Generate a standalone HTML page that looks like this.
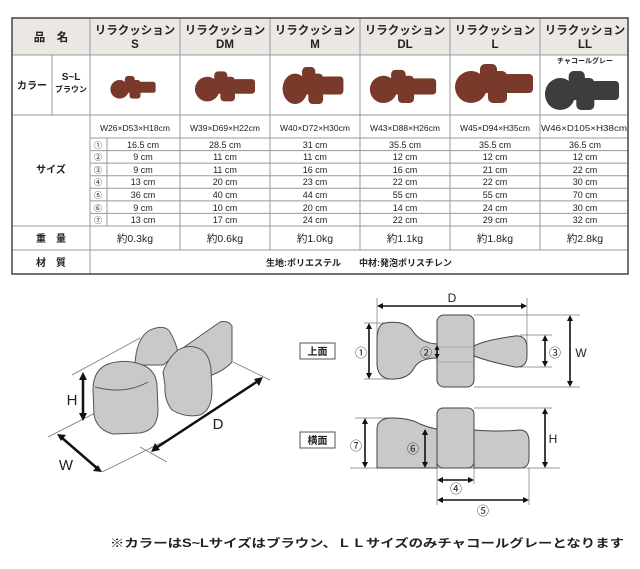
<!DOCTYPE html>
<html><head><meta charset="utf-8"><style>
html,body{margin:0;padding:0;background:#fff;width:640px;height:569px;overflow:hidden}
svg{display:block}
text{font-family:"Liberation Sans","Noto Sans CJK JP",sans-serif;fill:#222}
.b{font-weight:bold}
</style></head><body>
<svg width="640" height="569" viewBox="0 0 640 569" xmlns="http://www.w3.org/2000/svg">
<defs>
<g id="prod">
<ellipse cx="-23" cy="4" rx="16" ry="16"/>
<rect x="-14" y="-19" width="17" height="20" rx="5"/>
<rect x="10" y="-9" width="29" height="19" rx="4"/>
<rect x="-6" y="-12" width="19" height="32" rx="5"/>
<rect x="-12" y="-4" width="10" height="14"/>
</g>
</defs>
<!-- table -->
<rect x="12" y="18" width="616" height="37" fill="#ebe7e2"/>
<g stroke="#999" stroke-width="1" fill="none">
<line x1="12" y1="55" x2="628" y2="55"/>
<line x1="12" y1="115" x2="628" y2="115"/>
<line x1="90" y1="138" x2="628" y2="138"/>
<line x1="90" y1="150.6" x2="628" y2="150.6"/>
<line x1="90" y1="163.1" x2="628" y2="163.1"/>
<line x1="90" y1="175.7" x2="628" y2="175.7"/>
<line x1="90" y1="188.3" x2="628" y2="188.3"/>
<line x1="90" y1="200.9" x2="628" y2="200.9"/>
<line x1="90" y1="213.4" x2="628" y2="213.4"/>
<line x1="12" y1="226" x2="628" y2="226"/>
<line x1="12" y1="250" x2="628" y2="250"/>
<line x1="52" y1="55" x2="52" y2="115"/>
<line x1="90" y1="18" x2="90" y2="274"/>
<line x1="107" y1="138" x2="107" y2="226"/>
<line x1="180" y1="18" x2="180" y2="250"/>
<line x1="270" y1="18" x2="270" y2="250"/>
<line x1="360" y1="18" x2="360" y2="250"/>
<line x1="450" y1="18" x2="450" y2="250"/>
<line x1="540" y1="18" x2="540" y2="250"/>
</g>
<rect x="12" y="18" width="616" height="256" fill="none" stroke="#444" stroke-width="1.5"/>
<g class="b" font-size="11.5" text-anchor="middle">
<text x="51" y="41" class="b">品　名</text>
<text x="135" y="34">リラクッション</text><text x="135" y="48">S</text>
<text x="225" y="34">リラクッション</text><text x="225" y="48">DM</text>
<text x="315" y="34">リラクッション</text><text x="315" y="48">M</text>
<text x="405" y="34">リラクッション</text><text x="405" y="48">DL</text>
<text x="495" y="34">リラクッション</text><text x="495" y="48">L</text>
<text x="585" y="34">リラクッション</text><text x="585" y="48">LL</text>
<text x="32" y="89" font-size="10">カラー</text>
<text x="71" y="80" font-size="10">S~L</text>
<text x="71" y="92" font-size="8">ブラウン</text>
<text x="51" y="173" font-size="10">サイズ</text>
<text x="51" y="242" font-size="10">重　量</text>
<text x="51" y="266" font-size="10">材　質</text>
<text x="585" y="63" font-size="7">チャコールグレー</text>
<text x="359" y="266" font-size="9">生地:ポリエステル　　中材:発泡ポリスチレン</text>
</g>
<!-- products -->
<g fill="#7a3a2b">
<use href="#prod" transform="translate(133,87) scale(0.58)"/>
<use href="#prod" transform="translate(225,86) scale(0.77)"/>
<use href="#prod" transform="translate(313,85) scale(0.78,0.95)"/>
<use href="#prod" transform="translate(403,86) scale(0.85,0.85)"/>
<use href="#prod" transform="translate(494,83) scale(1,1)"/>
</g>
<g fill="#3d3d3d"><use href="#prod" transform="translate(582,90) scale(0.95,1)"/></g>
<!-- sizes -->
<g font-size="8.5" text-anchor="middle">
<text x="135" y="131">W26×D53×H18cm</text>
<text x="225" y="131">W39×D69×H22cm</text>
<text x="315" y="131">W40×D72×H30cm</text>
<text x="405" y="131">W43×D88×H26cm</text>
<text x="495" y="131">W45×D94×H35cm</text>
<text x="584" y="131" textLength="86" lengthAdjust="spacingAndGlyphs">W46×D105×H38cm</text>
</g>
<g font-size="9" text-anchor="middle">
<g fill="#666" font-size="8"><text x="98" y="148">①</text><text x="98" y="160">②</text><text x="98" y="173">③</text><text x="98" y="185">④</text><text x="98" y="198">⑤</text><text x="98" y="211">⑥</text><text x="98" y="223">⑦</text></g>
<text x="143" y="148">16.5 cm</text><text x="225" y="148">28.5 cm</text><text x="315" y="148">31 cm</text><text x="405" y="148">35.5 cm</text><text x="495" y="148">35.5 cm</text><text x="585" y="148">36.5 cm</text>
<text x="143" y="160">9 cm</text><text x="225" y="160">11 cm</text><text x="315" y="160">11 cm</text><text x="405" y="160">12 cm</text><text x="495" y="160">12 cm</text><text x="585" y="160">12 cm</text>
<text x="143" y="173">9 cm</text><text x="225" y="173">11 cm</text><text x="315" y="173">16 cm</text><text x="405" y="173">16 cm</text><text x="495" y="173">21 cm</text><text x="585" y="173">22 cm</text>
<text x="143" y="185">13 cm</text><text x="225" y="185">20 cm</text><text x="315" y="185">23 cm</text><text x="405" y="185">22 cm</text><text x="495" y="185">22 cm</text><text x="585" y="185">30 cm</text>
<text x="143" y="198">36 cm</text><text x="225" y="198">40 cm</text><text x="315" y="198">44 cm</text><text x="405" y="198">55 cm</text><text x="495" y="198">55 cm</text><text x="585" y="198">70 cm</text>
<text x="143" y="211">9 cm</text><text x="225" y="211">10 cm</text><text x="315" y="211">20 cm</text><text x="405" y="211">14 cm</text><text x="495" y="211">24 cm</text><text x="585" y="211">30 cm</text>
<text x="143" y="223">13 cm</text><text x="225" y="223">17 cm</text><text x="315" y="223">24 cm</text><text x="405" y="223">22 cm</text><text x="495" y="223">29 cm</text><text x="585" y="223">32 cm</text>
</g>
<g font-size="10.5" text-anchor="middle">
<text x="135" y="242">約0.3kg</text><text x="225" y="242">約0.6kg</text><text x="315" y="242">約1.0kg</text><text x="405" y="242">約1.1kg</text><text x="495" y="242">約1.8kg</text><text x="585" y="242">約2.8kg</text>
</g>
<!-- 3D diagram -->
<g stroke="#777" stroke-width="0.8" fill="none">
<line x1="72" y1="375" x2="140" y2="338"/>
<line x1="48" y1="437" x2="97" y2="412"/>
<line x1="102" y1="472" x2="167" y2="440"/>
<line x1="140" y1="447" x2="167" y2="462"/>
<line x1="233" y1="362" x2="270" y2="380"/>
</g>
<g fill="#c9c9c9" stroke="#555" stroke-width="1" stroke-linejoin="round">
<path d="M170,357 L220,322 Q228,320 232,326 L232,362 Q225,370 212,375 L187,387 Z"/>
<path d="M135,365 Q136,338 150,330 Q165,324 170,332 Q176,342 178,353 L163,365 Z"/>
<path d="M163,372 Q168,358 178,350 Q190,343 202,350 Q210,356 211,370 L212,390 Q212,410 200,415 Q185,418 172,410 Q164,400 165,385 Z"/>
<path d="M93,390 Q93,370 108,364 Q128,358 145,366 Q156,372 157,385 L158,410 Q158,430 140,433 L113,434 Q97,430 94,415 Z"/>
<path d="M95,387 Q125,395 148,382" fill="none"/>
</g>
<g stroke="#111" stroke-width="2.5" fill="#111">
<line x1="83" y1="377" x2="83" y2="416"/>
<line x1="61" y1="437" x2="98" y2="469"/>
<line x1="156" y1="448" x2="258" y2="381"/>
</g>
<g fill="#111">
<path d="M83,372 l-4,8 h8 z"/><path d="M83,421 l-4,-8 h8 z"/>
<path d="M57,434 l9,1 l-5,6 z"/><path d="M102,472 l-9,-1 l5,-6 z"/>
<path d="M151,452 l4,-9 l5,7 z"/><path d="M263,377 l-4,9 l-5,-7 z"/>
</g>
<g font-size="15" text-anchor="middle"><text x="72" y="405">H</text><text x="66" y="470">W</text><text x="218" y="429">D</text></g>
<!-- top view -->
<g stroke="#777" stroke-width="0.7">
<line x1="377" y1="298" x2="377" y2="345"/><line x1="527" y1="298" x2="527" y2="345"/>
<line x1="364" y1="323" x2="390" y2="323"/><line x1="364" y1="379" x2="390" y2="379"/>
<line x1="474" y1="315" x2="580" y2="315"/><line x1="474" y1="387" x2="580" y2="387"/>
<line x1="520" y1="335" x2="552" y2="335"/><line x1="520" y1="367" x2="552" y2="367"/>
<line x1="350" y1="468" x2="560" y2="468"/><line x1="474" y1="408" x2="552" y2="408"/>
<line x1="355" y1="418" x2="395" y2="418"/><line x1="415" y1="429" x2="437" y2="429"/>
<line x1="437" y1="468" x2="437" y2="505"/><line x1="474" y1="468" x2="474" y2="484"/><line x1="529" y1="468" x2="529" y2="505"/>
</g>
<g fill="#c9c9c9" stroke="#444" stroke-width="1">
<path d="M385,323 Q404,320 412,330 Q420,343 437,344 L437,358 Q420,358 414,368 Q408,380 390,379 Q378,378 377,365 L377,338 Q378,324 385,323 Z"/>
<path d="M474,346 Q485,340 515,336 Q527,335 527,348 L527,356 Q527,368 515,367 Q490,362 474,356 Z"/>
<rect x="437" y="315" width="37" height="72" rx="7"/>
<path d="M437,347 h37 M437,362 h37" stroke="#888" stroke-width="0.6"/>
<path d="M377,468 L377,428 Q378,418 392,418 Q410,418 420,424 Q430,428 437,429 L437,468 Z"/>
<path d="M474,430 Q500,432 520,430 Q529,430 529,442 L529,460 Q528,468 520,468 L474,468 Z"/>
<rect x="437" y="408" width="37" height="60" rx="6"/>
</g>
<g stroke="#111" stroke-width="1.6" fill="#111">
<line x1="381" y1="306" x2="523" y2="306"/>
<line x1="369" y1="327" x2="369" y2="375"/>
<line x1="437" y1="348" x2="437" y2="356"/>
<line x1="545" y1="339" x2="545" y2="363"/>
<line x1="570" y1="319" x2="570" y2="383"/>
<line x1="545" y1="412" x2="545" y2="464"/>
<line x1="365" y1="422" x2="365" y2="464"/>
<line x1="425" y1="433" x2="425" y2="464"/>
<line x1="441" y1="480" x2="470" y2="480"/>
<line x1="441" y1="500" x2="525" y2="500"/>
</g>
<g fill="#111">
<path d="M377,306 l6,-3 v6 z"/><path d="M527,306 l-6,-3 v6 z"/>
<path d="M369,323 l-3,6 h6 z"/><path d="M369,379 l-3,-6 h6 z"/>
<path d="M437,345 l-2.5,5 h5 z"/><path d="M437,359 l-2.5,-5 h5 z"/>
<path d="M545,335 l-3,6 h6 z"/><path d="M545,367 l-3,-6 h6 z"/>
<path d="M570,315 l-3,6 h6 z"/><path d="M570,387 l-3,-6 h6 z"/>
<path d="M545,408 l-3,6 h6 z"/><path d="M545,468 l-3,-6 h6 z"/>
<path d="M365,418 l-3,6 h6 z"/><path d="M365,468 l-3,-6 h6 z"/>
<path d="M425,429 l-3,6 h6 z"/><path d="M425,468 l-3,-6 h6 z"/>
<path d="M437,480 l6,-3 v6 z"/><path d="M474,480 l-6,-3 v6 z"/>
<path d="M437,500 l6,-3 v6 z"/><path d="M529,500 l-6,-3 v6 z"/>
</g>
<g font-size="12" text-anchor="middle">
<text x="452" y="302">D</text>
<text x="581" y="357">W</text>
<text x="553" y="443">H</text>
<text x="361" y="357">①</text><text x="426" y="357">②</text><text x="555" y="357">③</text>
<text x="456" y="493">④</text><text x="483" y="515">⑤</text><text x="413" y="453">⑥</text><text x="356" y="450">⑦</text>
</g>
<g stroke="#555" fill="#fff" stroke-width="1"><rect x="300" y="343" width="35" height="16"/><rect x="300" y="432" width="35" height="16"/></g>
<g class="b" font-size="10" text-anchor="middle"><text x="317.5" y="355" class="b">上面</text><text x="317.5" y="444" class="b">横面</text></g>
<text x="110" y="547" font-size="11.5" class="b" textLength="514" lengthAdjust="spacingAndGlyphs">※カラーはS~Lサイズはブラウン、ＬＬサイズのみチャコールグレーとなります</text>
</svg>
</body></html>
